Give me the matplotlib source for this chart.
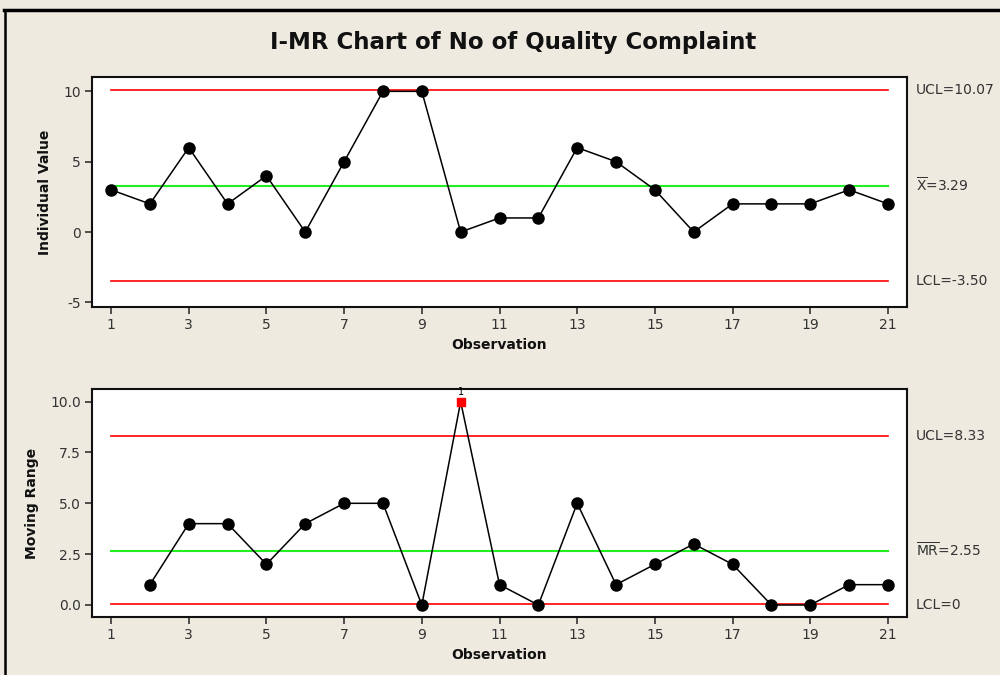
import matplotlib
matplotlib.use("Agg")
import matplotlib.pyplot as plt
from matplotlib.lines import Line2D
from matplotlib.transforms import blended_transform_factory

# Data
observations = list(range(1, 22))
individual_values = [3, 2, 6, 2, 4, 0, 5, 10, 10, 0, 1, 1, 6, 5, 3, 0, 2, 2, 2, 3, 2]
mr_observations = list(range(2, 22))
moving_ranges = [1, 4, 4, 2, 4, 5, 5, 0, 10, 1, 0, 5, 1, 2, 3, 2, 0, 0, 1, 1]
i_limits = {"UCL": 10.07, "CL": 3.29, "LCL": -3.50}
mr_limits = {"UCL": 8.33, "CL": 2.55, "LCL": 0.0}
i_yticks = [-5, 0, 5, 10]
mr_yticks = [0.0, 2.5, 5.0, 7.5, 10.0]
xticks = [1, 3, 5, 7, 9, 11, 13, 15, 17, 19, 21]
mr_ooc_obs = [10]

BG = "#EEEAE0"
W, H = 1000, 675
fig = plt.figure(figsize=(10, 6.75), dpi=100, facecolor=BG)

def ax_rect(l, t, r, b):
    return [l / W, 1 - b / H, (r - l) / W, (b - t) / H]

ax1 = fig.add_axes(ax_rect(92, 77, 907, 307))
ax2 = fig.add_axes(ax_rect(92, 389, 907, 617))

def style(ax):
    ax.set_facecolor("white")
    for s in ax.spines.values():
        s.set_linewidth(1.5)
        s.set_color("#111111")
    ax.set_xlim(0.51, 21.49)
    ax.set_xticks(xticks)
    ax.tick_params(direction="out", length=5, width=1.2, labelsize=10, colors="#333333", pad=3)
    ax.set_xlabel("Observation", fontsize=10, fontweight="bold", labelpad=4, color="#111111")

# Individual chart
style(ax1)
ax1.set_ylim(-5.33, 11.02)
ax1.set_yticks(i_yticks)
ax1.set_yticklabels([str(v) for v in i_yticks])
ax1.axhline(i_limits["UCL"], xmin=0.023, xmax=0.977, color="#FF0000", lw=1.2)
ax1.axhline(i_limits["LCL"], xmin=0.023, xmax=0.977, color="#FF0000", lw=1.2)
ax1.axhline(i_limits["CL"], xmin=0.023, xmax=0.977, color="#22EE22", lw=1.5)
ax1.plot(observations, individual_values, color="black", lw=1.1, marker="o",
         markersize=8, markerfacecolor="black", zorder=3)
ax1.set_ylabel("Individual Value", fontsize=10, fontweight="bold", labelpad=8, color="#111111")

# MR chart
style(ax2)
ax2.set_ylim(-0.59, 10.62)
ax2.set_yticks(mr_yticks)
ax2.set_yticklabels([f"{v:.1f}" for v in mr_yticks])
ax2.axhline(mr_limits["UCL"], xmin=0.023, xmax=0.977, color="#FF0000", lw=1.2)
ax2.axhline(mr_limits["LCL"] + 0.07, xmin=0.023, xmax=0.977, color="#FF0000", lw=1.2)
ax2.axhline(mr_limits["CL"] + 0.12, xmin=0.023, xmax=0.977, color="#22EE22", lw=1.5)
normal_idx = [i for i, x in enumerate(mr_observations) if x not in mr_ooc_obs]
ooc_idx = [i for i, x in enumerate(mr_observations) if x in mr_ooc_obs]
ax2.plot(mr_observations, moving_ranges, color="black", lw=1.1, marker="o",
         markersize=8, markerfacecolor="black", markevery=normal_idx, zorder=3)
ax2.plot(mr_observations, moving_ranges, linestyle="none", marker="s", markersize=6,
         color="#FF0000", markevery=ooc_idx, zorder=4)
for i in ooc_idx:
    ax2.annotate("1", (mr_observations[i], moving_ranges[i]), xytext=(0, 3.5),
                 textcoords="offset points", ha="center", va="bottom", fontsize=7)
ax2.set_ylabel("Moving Range", fontsize=10, fontweight="bold", labelpad=8, color="#111111")

# Right-side limit labels
lab_kw = dict(fontsize=10, color="#333333", va="center", ha="left")
t1 = blended_transform_factory(fig.transFigure, ax1.transData)
t2 = blended_transform_factory(fig.transFigure, ax2.transData)
x_lab = 916 / W
ax1.text(x_lab, i_limits["UCL"], f"UCL={i_limits['UCL']:.2f}", transform=t1, **lab_kw)
ax1.text(x_lab, i_limits["CL"], r"$\overline{\mathrm{X}}$" + f"={i_limits['CL']:.2f}", transform=t1, **lab_kw)
ax1.text(x_lab, i_limits["LCL"], f"LCL={i_limits['LCL']:.2f}", transform=t1, **lab_kw)
ax2.text(x_lab, mr_limits["UCL"], f"UCL={mr_limits['UCL']:.2f}", transform=t2, **lab_kw)
ax2.text(x_lab, mr_limits["CL"] + 0.12, r"$\overline{\mathrm{MR}}$" + f"={mr_limits['CL']:.2f}", transform=t2, **lab_kw)
ax2.text(x_lab, mr_limits["LCL"], "LCL=0", transform=t2, **lab_kw)

# Title
fig.text(0.513, 1 - 43 / H, "I-MR Chart of No of Quality Complaint", ha="center", va="center",
         fontsize=16.5, fontweight="bold", color="#111111")

# Outer frame (top and left borders)
fig.add_artist(Line2D([4 / W, 1.0], [1 - 9.5 / H, 1 - 9.5 / H], color="black", lw=2.5,
                      transform=fig.transFigure))
fig.add_artist(Line2D([5 / W, 5 / W], [0, 1 - 9.5 / H], color="black", lw=1.8,
                      transform=fig.transFigure))

fig.savefig("out.png", dpi=100, facecolor=BG)
